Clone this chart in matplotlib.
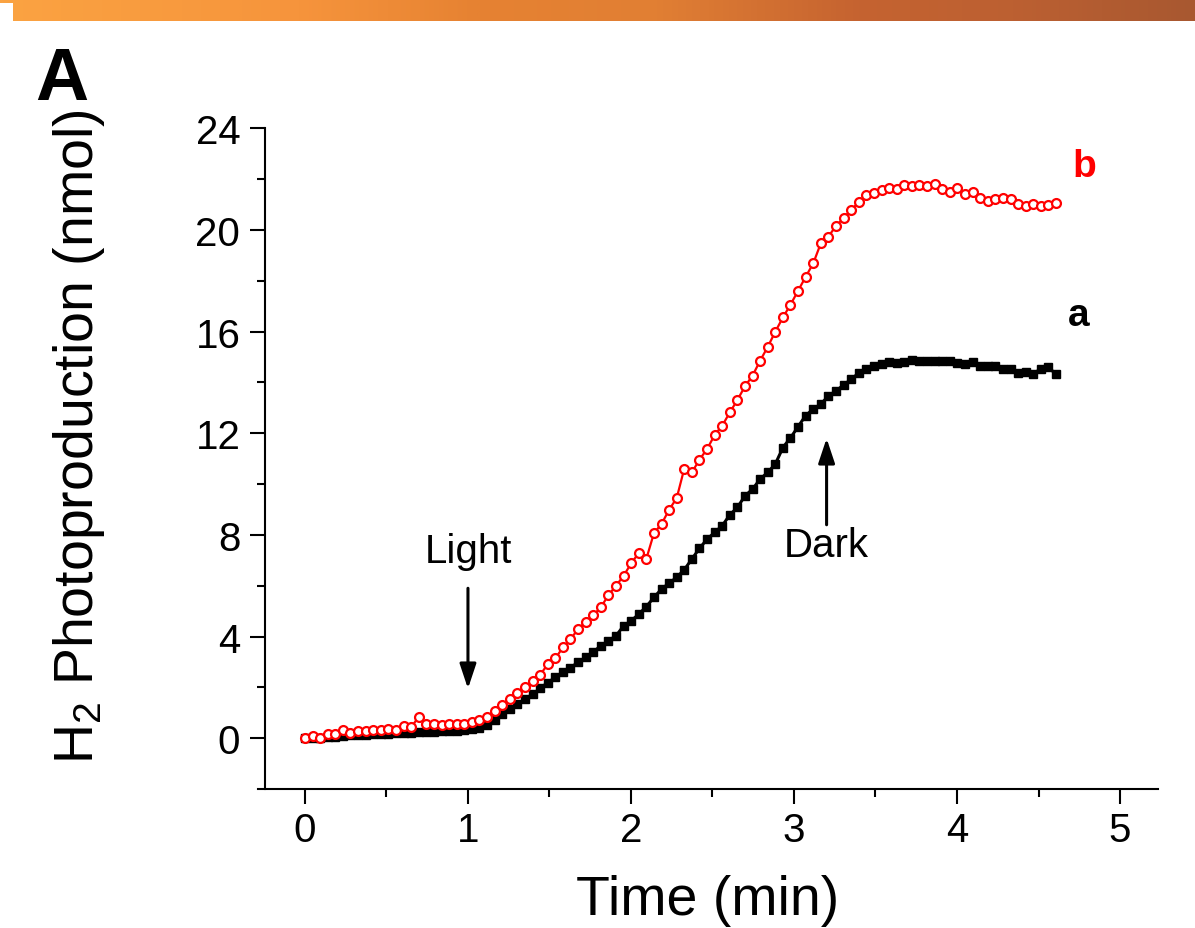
import numpy as np
import matplotlib
matplotlib.use("Agg")
import matplotlib.pyplot as plt
from matplotlib.ticker import FixedLocator
from matplotlib.colors import LinearSegmentedColormap

plt.rcParams['font.family'] = ['Liberation Sans', 'DejaVu Sans']
plt.rcParams['mathtext.fontset'] = 'custom'
plt.rcParams['mathtext.rm'] = 'Liberation Sans'
plt.rcParams['mathtext.it'] = 'Liberation Sans:italic'
plt.rcParams['mathtext.bf'] = 'Liberation Sans:bold'

# ---------------- data ----------------
sample_interval_min = 0.04654  # recording interval (min)

series_a = [0.00, 0.01, 0.02, 0.04, 0.06, 0.09, 0.11, 0.13, 0.14, 0.15,
            0.16, 0.17, 0.19, 0.20, 0.22, 0.24, 0.25, 0.26, 0.27, 0.28,
            0.29, 0.31, 0.35, 0.42, 0.52, 0.70, 0.94, 1.14, 1.34, 1.54,
            1.73, 1.96, 2.19, 2.39, 2.59, 2.78, 2.98, 3.18, 3.40, 3.63,
            3.83, 4.03, 4.42, 4.62, 4.88, 5.18, 5.54, 5.87, 6.10, 6.33,
            6.63, 7.05, 7.47, 7.83, 8.10, 8.36, 8.79, 9.08, 9.54, 9.80,
            10.20, 10.46, 10.79, 11.44, 11.82, 12.26, 12.70, 12.95, 13.15, 13.47,
            13.67, 13.90, 14.13, 14.37, 14.53, 14.63, 14.72, 14.82, 14.75, 14.82,
            14.89, 14.85, 14.83, 14.85, 14.86, 14.86, 14.75, 14.72, 14.79, 14.66,
            14.66, 14.63, 14.55, 14.55, 14.37, 14.43, 14.33, 14.55, 14.59, 14.33]

series_b = [0.00, 0.07, 0.02, 0.16, 0.16, 0.31, 0.20, 0.30, 0.28, 0.33,
            0.33, 0.37, 0.33, 0.48, 0.43, 0.84, 0.56, 0.54, 0.51, 0.54,
            0.55, 0.56, 0.62, 0.72, 0.83, 1.07, 1.31, 1.54, 1.76, 2.00,
            2.26, 2.49, 2.91, 3.14, 3.57, 3.90, 4.29, 4.58, 4.84, 5.15,
            5.63, 6.00, 6.39, 6.88, 7.29, 7.06, 8.07, 8.43, 8.99, 9.45,
            10.61, 10.46, 10.96, 11.38, 11.93, 12.30, 12.82, 13.31, 13.85, 14.27,
            14.86, 15.40, 16.00, 16.56, 17.06, 17.61, 18.16, 18.69, 19.48, 19.74,
            20.17, 20.47, 20.80, 21.09, 21.39, 21.44, 21.57, 21.65, 21.61, 21.78,
            21.74, 21.77, 21.74, 21.81, 21.62, 21.49, 21.65, 21.42, 21.51, 21.25,
            21.13, 21.22, 21.25, 21.22, 21.02, 20.93, 21.02, 20.93, 20.99, 21.05]

time_min = np.arange(len(series_b)) * sample_interval_min

x_major = [0, 1, 2, 3, 4, 5]
x_minor = [0.5, 1.5, 2.5, 3.5, 4.5]
y_major = [0, 4, 8, 12, 16, 20, 24]
y_minor = [2, 6, 10, 14, 18, 22]

# ---------------- figure ----------------
W, H = 1195, 929
fig = plt.figure(figsize=(W / 100, H / 100), dpi=100)

# header gradient bar
hdr = fig.add_axes([0, 1 - 22 / H, 1, 22 / H])
stops = [(0.0, (251, 163, 66)), (0.25, (246, 148, 60)), (0.40, (230, 130, 50)),
         (0.55, (225, 127, 52)), (0.72, (197, 99, 48)), (0.85, (188, 96, 50)),
         (1.0, (168, 88, 48))]
cmap = LinearSegmentedColormap.from_list('hdr', [(p, tuple(c / 255 for c in col)) for p, col in stops])
hdr.imshow(np.linspace(0, 1, 512)[None, :], aspect='auto', cmap=cmap, extent=[0, 1, 0, 1])
hdr.add_patch(plt.Rectangle((0, 0), 13 / W, 18 / 22, color='white', lw=0))
hdr.set_xlim(0, 1); hdr.set_ylim(0, 1)
hdr.axis('off')

# main axes
left_px, right_px = 258, 1158
top_px, bot_px = 129.4, 790
ax = fig.add_axes([left_px / W, 1 - bot_px / H, (right_px - left_px) / W, (bot_px - top_px) / H])

ax.plot(time_min, series_a, color='black', lw=2.2, marker='s', ms=5.4,
        mfc='black', mec='black', zorder=3, clip_on=False)
ax.plot(time_min, series_b, color='#ff0000', lw=1.6, marker='o', ms=6.4,
        mfc='white', mec='#ff0000', mew=1.6, zorder=4, clip_on=False)

ax.set_xlim(-0.288, 5.233)
ax.set_ylim(-2, 24)

for s in ['top', 'right']:
    ax.spines[s].set_visible(False)
for s in ['left', 'bottom']:
    ax.spines[s].set_linewidth(1.5)
ax.spines['left'].set_position(('data', -0.245))

ax.xaxis.set_major_locator(FixedLocator(x_major))
ax.xaxis.set_minor_locator(FixedLocator(x_minor))
ax.yaxis.set_major_locator(FixedLocator(y_major))
ax.yaxis.set_minor_locator(FixedLocator(y_minor))
ax.tick_params(which='major', direction='out', length=10.8, width=1.5, labelsize=29)
ax.tick_params(which='minor', direction='out', length=5.8, width=1.5)
ax.tick_params(axis='x', which='major', pad=5)
ax.tick_params(axis='y', which='major', pad=7)

ax.set_xlabel('Time (min)', fontsize=40)
ax.set_ylabel('H$_2$ Photoproduction (nmol)', fontsize=40)
ax.xaxis.set_label_coords(0.5, -0.129)
ax.yaxis.set_label_coords(-0.168, 0.535)

# annotations
arrow_style = '-|>,head_length=0.75,head_width=0.25'
ax.text(1.0, 6.93, 'Light', fontsize=29, ha='center', va='baseline')
ax.annotate('', xy=(1.0, 1.95), xytext=(1.0, 5.9),
            arrowprops=dict(arrowstyle=arrow_style, color='black', lw=2.2,
                            mutation_scale=20, shrinkA=0, shrinkB=0))
ax.text(3.2, 7.17, 'Dark', fontsize=29, ha='center', va='baseline')
ax.annotate('', xy=(3.2, 11.8), xytext=(3.2, 8.4),
            arrowprops=dict(arrowstyle=arrow_style, color='black', lw=2.2,
                            mutation_scale=20, shrinkA=0, shrinkB=0))

ax.text(4.71, 22.13, 'b', fontsize=28, fontweight='bold', color='#ff0000',
        ha='left', va='baseline', clip_on=False)
ax.text(4.68, 16.26, 'a', fontsize=28, fontweight='bold', color='black',
        ha='left', va='baseline', clip_on=False)

fig.text(35 / W, 1 - 100 / H, 'A', fontsize=53, fontweight='bold', ha='left', va='baseline')

fig.savefig('out.png', dpi=100)
